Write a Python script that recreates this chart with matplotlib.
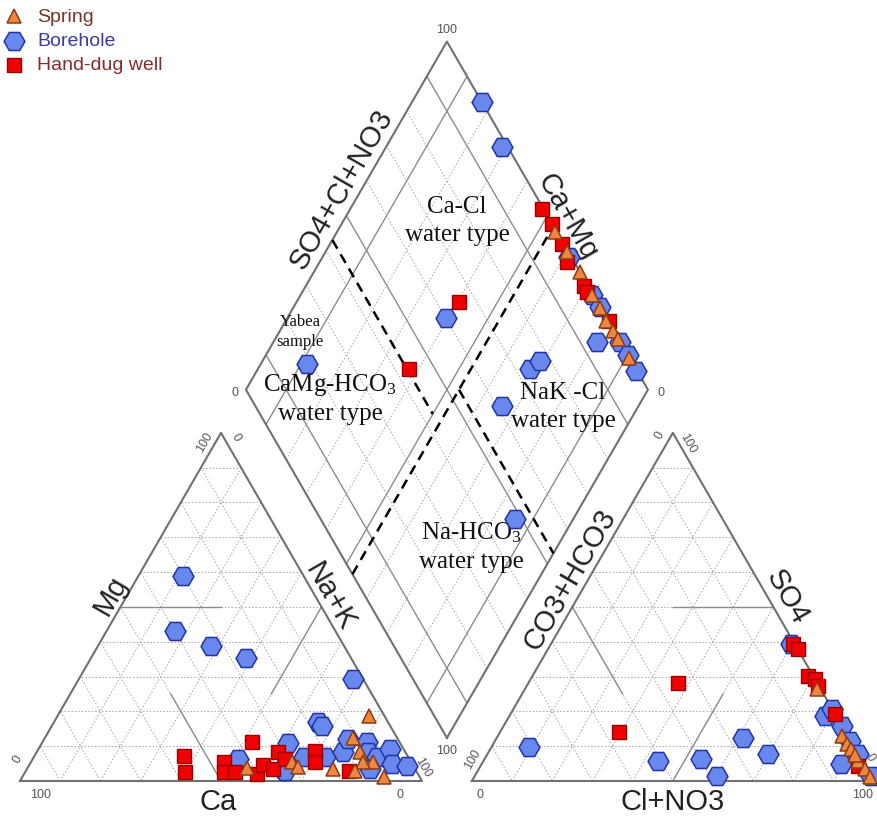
import numpy as np
import matplotlib.pyplot as plt

plt.rcParams['mathtext.fontset'] = 'custom'
plt.rcParams['mathtext.rm'] = 'Liberation Serif'
plt.rcParams['mathtext.it'] = 'Liberation Serif'
plt.rcParams['mathtext.default'] = 'regular'

# ---------------- data (percent of meq) ----------------
# Cation triangle: Ca, Mg (Na+K = 100 - Ca - Mg)
bh_cat_ca = [30.1, 39.9, 33.1, 26.2, 2.6, 17.4, 17.0, 27.9, 42.7, 32.9, 25.9, 20.6, 15.6, 12.3, 8.1,
             9.3, 7.7, 3.4, 5.0, 1.6, 11.2, 32.6]
bh_cat_mg = [58.9, 43.1, 38.8, 35.3, 29.3, 17.0, 15.8, 10.9, 6.3, 3.4, 6.9, 6.9, 8.3, 12.1, 11.2,
             8.3, 6.9, 9.2, 4.9, 4.3, 3.4, 2.9]
hd_cat_ca = [55.6, 57.7, 36.7, 46.5, 48.0, 45.2, 40.0, 37.3, 35.4, 31.7, 22.3, 23.8, 16.7, 31.0]
hd_cat_mg = [7.2, 2.6, 11.2, 5.5, 2.6, 2.6, 2.0, 4.6, 3.4, 8.3, 8.6, 5.5, 2.9, 6.3]
sp_cat_ca = [3.8, 11.0, 11.3, 9.4, 11.9, 20.4, 9.0, 29.5, 28.8, 41.7, 15.2]
sp_cat_mg = [18.7, 12.4, 8.3, 5.5, 5.5, 3.4, 1.1, 5.5, 4.0, 3.7, 2.9]

# Anion triangle: Cl+NO3, SO4 (CO3+HCO3 = 100 - Cl - SO4)
bh_an_cl = [9.4, 43.4, 53.8, 60.4, 61.4, 69.8, 89.5, 59.8, 78.5, 79.2, 84.1, 88.3, 92.2, 98.6]
bh_an_so4 = [9.7, 5.8, 6.3, 1.4, 12.3, 7.8, 4.9, 39.4, 18.7, 20.8, 15.8, 11.5, 7.8, 1.4]
hd_an_cl = [37.2, 29.5, 60.2, 62.1, 68.5, 70.6, 72.4, 80.7, 93.8]
hd_an_so4 = [28.2, 14.2, 39.4, 37.9, 30.2, 29.3, 27.3, 19.3, 4.3]
sp_an_cl = [72.6, 85.6, 87.9, 89.8, 93.3, 96.1, 98.4, 91.5]
sp_an_so4 = [26.4, 12.9, 10.6, 9.2, 5.7, 3.4, 1.1, 7.5]

# Diamond: SO4+Cl+NO3, Ca+Mg
bh_dia_s = [100, 98.6, 60.1, 18.8, 73.7, 77.4, 61.3, 48.5, 94.2, 99.7, 99.5, 99.7, 100, 100, 100]
bh_dia_c = [82.7, 71.2, 60.6, 88.5, 32.2, 30.9, 34.0, 14.5, 19.4, 5.7, 38.7, 27.4, 23.8, 13.8, 10.0]
hd_dia_s = [65.6, 43.5, 99.7, 100, 99.6, 98.2, 99.0, 98.9, 100]
hd_dia_c = [59.5, 62.4, 52.3, 47.7, 42.3, 38.4, 30.9, 29.1, 19.6]
sp_dia_s = [99.6, 100, 100, 99.4, 99.7, 100, 99.9, 99.5, 99.8]
sp_dia_c = [45.6, 33.9, 23.6, 20.4, 17.3, 14.7, 9.3, 40.0, 27.5]

# Hand-drawn dashed facies boundaries in the diamond (s, c) pairs
dash_lines = [([43, 43], [100, 50]),
              ([0, 100], [47, 47]),
              ([53, 53], [47, 0])]

legend_labels = ["Spring", "Borehole", "Hand-dug well"]

# ---------------- geometry ----------------
L = 100.0
GAP = 12.4
H = np.sqrt(3) / 2


def cat_xy(ca, mg):
    ca = np.asarray(ca, float); mg = np.asarray(mg, float)
    na = 100 - ca - mg
    return (na + mg / 2) / 100 * L, mg / 100 * L * H


def an_xy(cl, so4):
    cl = np.asarray(cl, float); so4 = np.asarray(so4, float)
    return L + GAP + (cl + so4 / 2) / 100 * L, so4 / 100 * L * H


def dia_xy(s, c):
    s = np.asarray(s, float); c = np.asarray(c, float)
    bx, by = L + GAP / 2, GAP * H
    return bx + (s - c) / 100 * L / 2, by + (s + c) / 100 * L * H


fig = plt.figure(figsize=(8.77, 8.20), dpi=100)
ax = fig.add_axes([0, 0, 1, 1])
scale = 4.02
ax.set_xlim(-20 / scale, -20 / scale + 877 / scale)
ax.set_ylim(-38 / scale, -38 / scale + 820 / scale)
ax.set_aspect('equal')
ax.axis('off')

EDGE = '#707070'
GRID = '#a4a4a4'
grid_kw = dict(color=GRID, lw=0.7, ls=(0, (1.5, 2.0)), zorder=1)
solid_kw = dict(color='#8c8c8c', lw=1.0, zorder=1.5)
edge_kw = dict(color=EDGE, lw=1.5, zorder=2)

ticks = np.arange(10, 100, 10)

# cation triangle grid
for k in ticks:
    x, y = cat_xy([0, 100 - k], [k, k]); ax.plot(x, y, **grid_kw)      # Mg = k
    x, y = cat_xy([k, k], [0, 100 - k]); ax.plot(x, y, **grid_kw)      # Ca = k
    x, y = cat_xy([0, 100 - k], [100 - k, 0]); ax.plot(x, y, **grid_kw)  # Na = k
x, y = cat_xy([50, 25], [50, 50]); ax.plot(x, y, **solid_kw)
x, y = cat_xy([50, 50], [0, 25]); ax.plot(x, y, **solid_kw)
x, y = cat_xy([0, 25], [50, 25]); ax.plot(x, y, **solid_kw)
x, y = cat_xy([100, 0, 0, 100], [0, 100, 0, 0]); ax.plot(x, y, **edge_kw)

# anion triangle grid
for k in ticks:
    x, y = an_xy([0, 100 - k], [k, k]); ax.plot(x, y, **grid_kw)
    x, y = an_xy([k, k], [0, 100 - k]); ax.plot(x, y, **grid_kw)
    x, y = an_xy([0, 100 - k], [100 - k, 0]); ax.plot(x, y, **grid_kw)
x, y = an_xy([50, 25], [50, 50]); ax.plot(x, y, **solid_kw)
x, y = an_xy([50, 50], [0, 25]); ax.plot(x, y, **solid_kw)
x, y = an_xy([0, 25], [50, 25]); ax.plot(x, y, **solid_kw)
x, y = an_xy([0, 100, 0, 0], [0, 0, 100, 0]); ax.plot(x, y, **edge_kw)

# diamond grid
for k in ticks:
    kw = solid_kw if k in (10, 50, 90) else grid_kw
    x, y = dia_xy([k, k], [0, 100]); ax.plot(x, y, **kw)
    x, y = dia_xy([0, 100], [k, k]); ax.plot(x, y, **kw)
x, y = dia_xy([0, 100, 100, 0, 0], [0, 0, 100, 100, 0]); ax.plot(x, y, **edge_kw)

# dashed boundaries
for s, c in dash_lines:
    x, y = dia_xy(s, c)
    ax.plot(x, y, color='black', lw=1.8, ls=(0, (4, 2.6)), zorder=3)

# ---------------- markers ----------------
bh_kw = dict(ls='none', marker='H', ms=15, mfc='#6888ee', mec='#2233a6', mew=1.1, zorder=5)
hd_kw = dict(ls='none', marker='s', ms=9.5, mfc='#f00000', mec='#9a0000', mew=1.0, zorder=6)
sp_kw = dict(ls='none', marker='^', ms=10.5, mfc='#ee8640', mec='#8a3b12', mew=1.1, zorder=7)

for fx, a, b, kw in [(cat_xy, bh_cat_ca, bh_cat_mg, bh_kw), (cat_xy, hd_cat_ca, hd_cat_mg, hd_kw),
                     (cat_xy, sp_cat_ca, sp_cat_mg, sp_kw),
                     (an_xy, bh_an_cl, bh_an_so4, bh_kw), (an_xy, hd_an_cl, hd_an_so4, hd_kw),
                     (an_xy, sp_an_cl, sp_an_so4, sp_kw),
                     (dia_xy, bh_dia_s, bh_dia_c, bh_kw), (dia_xy, hd_dia_s, hd_dia_c, hd_kw),
                     (dia_xy, sp_dia_s, sp_dia_c, sp_kw)]:
    x, y = fx(a, b)
    ax.plot(x, y, **kw)

# ---------------- axis labels ----------------
lab_kw = dict(fontsize=21, family='Liberation Sans', color='#222222', ha='center', va='center')
ax.text(22.6, 46.3, 'Mg', rotation=60, **lab_kw)
ax.text(77.1, 46.0, 'Na+K', rotation=-60, **lab_kw)
ax.text(49.3, -5.0, 'Ca', **lab_kw)
ax.text(80.1, 147.3, 'SO4+Cl+NO3', rotation=60, **lab_kw)
ax.text(136.1, 140.5, 'Ca+Mg', rotation=-60, **lab_kw)
ax.text(136.8, 50.2, 'CO3+HCO3', rotation=60, **lab_kw)
ax.text(190.8, 46.0, 'SO4', rotation=-60, **lab_kw)
ax.text(162.4, -5.0, 'Cl+NO3', **lab_kw)

tk = dict(fontsize=9, family='Liberation Sans', color='#555555', ha='center', va='center')
# cation
ax.text(5.0, -3.3, '100', **tk)
ax.text(94.5, -3.3, '0', **tk)
ax.text(-0.5, 5.5, '0', rotation=60, **tk)
ax.text(46.0, 84.6, '100', rotation=60, **tk)
ax.text(53.6, 85.8, '0', rotation=-60, **tk)
ax.text(100.2, 3.7, '100', rotation=-60, **tk)
# anion
ax.text(114.4, -3.3, '0', **tk)
ax.text(209.5, -3.3, '100', **tk)
ax.text(112.7, 5.5, '100', rotation=60, **tk)
ax.text(159.2, 86.3, '0', rotation=60, **tk)
ax.text(166.2, 84.3, '100', rotation=-60, **tk)
ax.text(211.4, 6.2, '0', rotation=-60, **tk)
# diamond
ax.text(106.2, 187.0, '100', **tk)
ax.text(53.5, 96.8, '0', **tk)
ax.text(159.4, 96.8, '0', **tk)
ax.text(106.2, 7.6, '100', **tk)

# ---------------- water-type annotations ----------------
ann = dict(fontsize=18, family='Liberation Serif', color='#111111', ha='center', va='center',
           zorder=4, linespacing=1.35)
ax.text(108.7, 139.6, 'Ca-Cl\nwater type', **ann)
ax.text(69.7, 111.9, 'Yabea\nsample', fontsize=12, family='Liberation Serif', color='#111111',
        ha='center', va='center', zorder=4, linespacing=1.3)
ax.text(77.1, 95.4, 'CaMg-HCO$_3$\nwater type', **ann)
ax.text(135.1, 93.3, 'NaK -Cl\nwater type', **ann)
ax.text(112.2, 58.5, 'Na-HCO$_3$\nwater type', **ann)

# ---------------- legend (drawn in figure pixels) ----------------
leg_colors = ['#7a3328', '#3a3aa8', '#8a2a2a']
leg_styles = [sp_kw, bh_kw, hd_kw]
for i, (lab, col, st) in enumerate(zip(legend_labels, leg_colors, leg_styles)):
    ypx = 17 + 24.5 * i
    st2 = {k: v for k, v in st.items() if k != 'zorder'}
    ax.plot([14 / 877], [1 - ypx / 820], transform=ax.transAxes, clip_on=False, zorder=8, **st2)
    ax.text(37 / 877, 1 - ypx / 820, lab, transform=ax.transAxes, ha='left', va='center',
            fontsize=14, family='Liberation Sans', color=col)

fig.savefig('out.png', dpi=100)
